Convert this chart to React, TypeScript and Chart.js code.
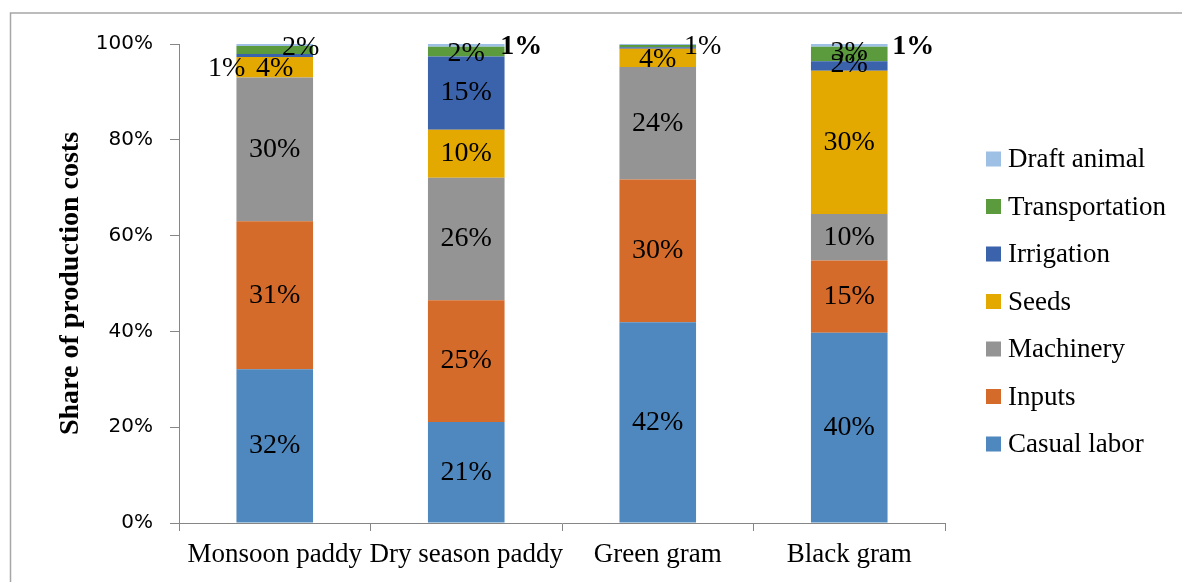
import React, { useEffect, useRef } from "react";
import { Chart, registerables } from "chart.js";

Chart.register(...registerables);

// ---- Data ----
const categories = ["Monsoon paddy", "Dry season paddy", "Green gram", "Black gram"];
const seriesNames = ["Casual labor", "Inputs", "Machinery", "Seeds", "Irrigation", "Transportation", "Draft animal"];
const casualLabor = [32.1, 21.1, 41.9, 39.7];
const inputs = [30.9, 25.4, 29.8, 15.1];
const machinery = [30.0, 25.6, 23.5, 9.7];
const seeds = [4.3, 10.0, 3.8, 29.9];
const irrigation = [0.6, 15.3, 0.3, 2.0];
const transportation = [1.7, 2.0, 0.5, 3.0];
const draftAnimal = [0.4, 0.6, 0.2, 0.6];
const yTicks = [0, 20, 40, 60, 80, 100];

// which data labels are shown (per series, per category)
const labelShown = [
  [1, 1, 1, 1],
  [1, 1, 1, 1],
  [1, 1, 1, 1],
  [1, 1, 1, 1],
  [1, 1, 0, 1],
  [1, 1, 1, 1],
  [0, 1, 0, 1],
];

// ---- Styles ----
const colors = ["#4F88BE", "#D46B2B", "#949494", "#E3A900", "#3B63AC", "#5C9A3E", "#9DC0E4"];
// label offsets [dx, dy] relative to segment centre
const labelOffsets: Record<string, [number, number]> = {
  "4-0": [-48, 13],
  "5-0": [26, -2],
  "3-0": [0, 1],
  "5-1": [0, 2],
  "6-1": [55, 1],
  "3-2": [0, 2],
  "5-2": [45, 0],
  "4-3": [0, -1],
  "5-3": [0, -1],
  "6-3": [64, 1],
};
const boldLabels: Record<string, boolean> = { "6-1": true, "6-3": true };
const SERIF = "'Liberation Serif', 'Times New Roman', serif";

const seriesValues = [casualLabor, inputs, machinery, seeds, irrigation, transportation, draftAnimal];

const framePlugin = {
  id: "frame",
  beforeDraw(chart: any) {
    const ctx = chart.ctx;
    ctx.save();
    ctx.strokeStyle = "#A6A6A6";
    ctx.lineWidth = 1.5;
    ctx.beginPath();
    ctx.moveTo(10.5, 1000);
    ctx.lineTo(10.5, 13);
    ctx.lineTo(2000, 13);
    ctx.stroke();
    ctx.restore();
  },
};

const dataLabelPlugin = {
  id: "dataLabels",
  afterDatasetsDraw(chart: any) {
    const ctx = chart.ctx;
    ctx.save();
    ctx.textAlign = "center";
    ctx.textBaseline = "middle";
    ctx.fillStyle = "#000";
    chart.data.datasets.forEach((ds: any, i: number) => {
      const meta = chart.getDatasetMeta(i);
      meta.data.forEach((el: any, j: number) => {
        if (!labelShown[i][j]) return;
        const key = `${i}-${j}`;
        const off = labelOffsets[key] || [0, 0];
        const cy = (el.y + el.base) / 2;
        ctx.font = `${boldLabels[key] ? "bold " : ""}28px ${SERIF}`;
        ctx.fillText(`${Math.round(ds.data[j])}%`, el.x + off[0], cy + off[1]);
      });
    });
    ctx.restore();
  },
};

const legendPlugin = {
  id: "customLegend",
  afterDraw(chart: any) {
    const ctx = chart.ctx;
    const area = chart.chartArea;
    ctx.save();
    ctx.font = `27px ${SERIF}`;
    ctx.textBaseline = "middle";
    ctx.textAlign = "left";
    const x0 = area.right + 41;
    const y0 = area.top + 115;
    const ds = chart.data.datasets.slice().reverse();
    ds.forEach((d: any, k: number) => {
      const y = y0 + k * 47.5;
      ctx.fillStyle = d.backgroundColor;
      ctx.fillRect(x0, y - 7.5, 15, 15);
      ctx.fillStyle = "#000";
      ctx.fillText(d.label, x0 + 22, y + 1);
    });
    ctx.restore();
  },
};

export default function App() {
  const ref = useRef<HTMLCanvasElement | null>(null);
  useEffect(() => {
    if (!ref.current) return;
    const chart = new Chart(ref.current, {
      type: "bar",
      data: {
        labels: categories,
        datasets: seriesNames.map((name, i) => ({
          label: name,
          data: seriesValues[i],
          backgroundColor: colors[i],
          borderWidth: 0,
          categoryPercentage: 1,
          barPercentage: 0.4,
        })),
      },
      options: {
        responsive: false,
        animation: false,
        devicePixelRatio: 1,
        layout: { padding: { left: 50, top: 44, right: 237, bottom: 0 } },
        plugins: {
          legend: { display: false },
          tooltip: { enabled: false },
        },
        scales: {
          x: {
            stacked: true,
            grid: {
              display: true,
              drawOnChartArea: false,
              drawTicks: true,
              tickLength: 8,
              offset: true,
              color: "#868686",
            },
            border: { display: true, color: "#868686", width: 1 },
            ticks: {
              color: "#000",
              font: { family: SERIF, size: 27 },
              padding: 8,
              maxRotation: 0,
              autoSkip: false,
            },
            afterFit(scale: any) {
              scale.height = 59;
            },
          },
          y: {
            stacked: true,
            min: 0,
            max: 100,
            afterBuildTicks(scale: any) {
              scale.ticks = yTicks.map((v) => ({ value: v }));
            },
            grid: {
              display: true,
              drawOnChartArea: false,
              drawTicks: true,
              tickLength: 9,
              color: "#868686",
            },
            border: { display: true, color: "#868686", width: 1 },
            ticks: {
              color: "#000",
              font: { family: "'DejaVu Sans', sans-serif", size: 20 },
              padding: 17,
              callback: (v: any) => `${v}%`,
            },
            title: {
              display: true,
              text: "Share of production costs",
              color: "#000",
              font: { family: SERIF, size: 28, weight: "bold" },
            },
            afterFit(scale: any) {
              scale.width = 129;
            },
          },
        },
      },
      plugins: [framePlugin, dataLabelPlugin, legendPlugin],
    });
    return () => chart.destroy();
  }, []);
  return (
    <div style={{ position: "fixed", left: 0, top: 0, width: 1182, height: 582, background: "#fff" }}>
      <canvas ref={ref} width={1182} height={582} style={{ width: 1182, height: 582 }} />
    </div>
  );
}
